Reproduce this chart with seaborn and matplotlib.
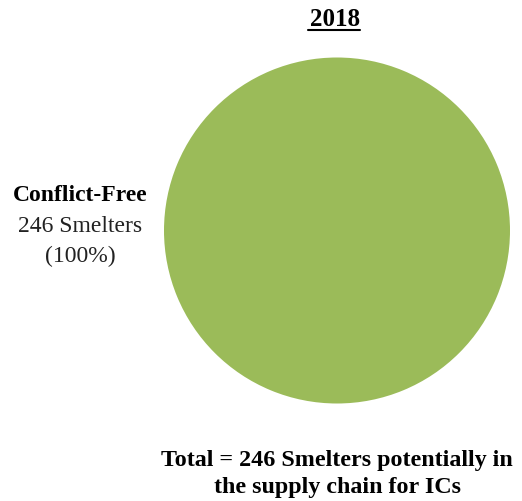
import matplotlib
matplotlib.use("Agg")
import matplotlib.pyplot as plt
import seaborn as sns

categories = ["Conflict-Free"]
smelters = [246]
percent_labels = ["100%"]
year = "2018"
total_text = "Total = 246 Smelters potentially in\nthe supply chain for ICs"

sns.set_theme(style="white")
plt.rcParams['font.family'] = ['Liberation Serif', 'DejaVu Serif']
plt.rcParams['text.color'] = 'black'

colors = ["#9BBB59"]

fig = plt.figure(figsize=(5.22, 5.02), dpi=100)
ax = fig.add_axes([164/522, 1 - 405/502, 346/522, 347/502])
ax.pie(smelters, colors=colors, startangle=90, counterclock=False,
       wedgeprops=dict(linewidth=0))
ax.set_xlim(-1, 1)
ax.set_ylim(-1, 1)
ax.set_aspect('equal')
ax.axis('off')

# title
fig.text(335/522, 1 - 19/502, year, ha='center', va='center',
         fontsize=18, fontweight='bold', color='black')
fig.add_artist(plt.Line2D([308/522, 360/522], [1 - 31/502, 1 - 31/502],
                          color='black', linewidth=1.5))

# left label
fig.text(80/522, 1 - 196/502, categories[0], ha='center', va='center',
         fontsize=17, fontweight='bold', color='black')
fig.text(80/522, 1 - 226/502, f"{smelters[0]} Smelters", ha='center', va='center',
         fontsize=17, color='#222222')
fig.text(80/522, 1 - 256/502, f"({percent_labels[0]})", ha='center', va='center',
         fontsize=17, color='#222222')

# bottom total
fig.text(337/522, 1 - 474/502, total_text, ha='center', va='center',
         fontsize=17.3, fontweight='bold', linespacing=1.42, color='black')

fig.savefig("out.png", dpi=100)
